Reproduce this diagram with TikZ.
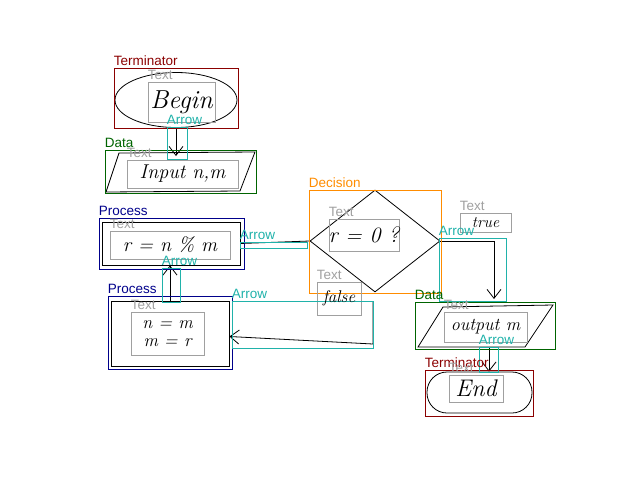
\documentclass[tikz,border=0pt]{standalone}
\usepackage{fontspec}
\setsansfont{Liberation Sans}
\usetikzlibrary{fit,shapes.geometric,arrows.meta}

\definecolor{termc}{RGB}{139,0,0}
\definecolor{datac}{RGB}{0,100,0}
\definecolor{procc}{RGB}{0,0,139}
\definecolor{decc}{RGB}{255,140,0}
\definecolor{arrc}{RGB}{32,178,170}
\definecolor{textc}{RGB}{160,160,160}

\tikzset{
    annot/.style={draw=#1, line width=0.8pt, inner sep=0pt},
    tag/.style={font=\sffamily\fontsize{13.5}{13.5}\selectfont, text=#1, inner sep=0pt, anchor=base west},
    sketch/.style={draw=black, line width=0.8pt, inner sep=0pt},
    hand/.style={font=\itshape\fontsize{#1}{#1}\selectfont, inner sep=0pt, align=center},
    flow/.style={sketch, -{Straight Barb[length=9pt,width=14pt]}}
}

\begin{document}
\begin{tikzpicture}[x=1pt, y=-1pt]
            \useasboundingbox (0,0) rectangle (640,480);

            % hand drawn flowchart
            \node[sketch, ellipse, minimum width=122pt, minimum height=55pt] (begin) at (176,100) {};
            \draw[sketch] (106,192) -- (119,153) -- (255,152) -- (240,191) -- cycle;
            \coordinate (inTop) at (176,156);
            \node[sketch, minimum width=138pt, minimum height=43pt] (proc1) at (171,243.5) {};
            \node[sketch, minimum width=118pt, minimum height=65pt] (proc2) at (170,333.5) {};
            \node[sketch, diamond, minimum width=130pt, minimum height=102pt] (dec) at (375,241) {};
            \draw[sketch] (418,347) -- (443,307) -- (553,305) -- (525,347) -- cycle;
            \coordinate (outTop) at (494,299);
            \coordinate (outBot) at (489,347);
            \coordinate (falseTop) at (373,302);
            \coordinate (falseCorner) at (373,344);
            \node[sketch, rounded corners=20pt, minimum width=105pt, minimum height=41pt] (end) at (479.5,392.5) {};

            \draw[flow] (begin.south) -- (inTop);
            \draw[flow] (proc2.north) -- (proc2.north |- proc1.south);
            \draw[sketch] (proc1.east) -- (dec.west);
            \draw[flow] (dec.east) -| (outTop);
            \draw[flow] (falseTop) -- (falseCorner) -- ([yshift=-3pt]proc2.east);
            \draw[flow] (outBot) -- (outBot |- end.north);

            % annotation boxes
            \node[annot=termc, fit={(114,68) (238,128)}] (termA) {};
            \node[annot=datac, fit={(105,150) (256,193)}] (dataA) {};
            \node[annot=procc, fit={(99,218) (244,269)}] (procA) {};
            \node[annot=procc, fit={(108,296) (232,369)}] (procB) {};
            \node[annot=decc, fit={(309,190) (441,293)}] (decA) {};
            \node[annot=datac, fit={(415,302) (555,349)}] (dataB) {};
            \node[annot=termc, fit={(425,370) (533,416)}] (termB) {};

            \node[annot=textc, fit={(148,82) (215,122)}] (txtBegin) {};
            \node[annot=textc, fit={(127,160) (238,188)}] (txtIn) {};
            \node[annot=textc, fit={(110,231) (230,259)}] (txtP1) {};
            \node[annot=textc, fit={(131,312) (204,355)}] (txtP2) {};
            \node[annot=textc, fit={(329,219) (399,251)}] (txtDec) {};
            \node[annot=textc, fit={(460,213) (511,232)}] (txtTrue) {};
            \node[annot=textc, fit={(317,282) (361,315)}] (txtFalse) {};
            \node[annot=textc, fit={(444,312) (527,342)}] (txtOut) {};
            \node[annot=textc, fit={(449,375) (503,402)}] (txtEnd) {};

            \node[annot=arrc, fit={(167,127) (187,159)}] (arrA) {};
            \node[annot=arrc, fit={(162,268) (180,302)}] (arrB) {};
            \node[annot=arrc, fit={(240,242) (307,248)}] (arrC) {};
            \node[annot=arrc, fit={(439,238) (506,301)}] (arrD) {};
            \node[annot=arrc, fit={(232,301) (373,348)}] (arrE) {};
            \node[annot=arrc, fit={(479,347) (498,372)}] (arrF) {};

            % annotation labels
            \node[tag=termc] at ([yshift=2pt]termA.north west) {Terminator};
            \node[tag=datac] at ([yshift=2pt]dataA.north west) {Data};
            \node[tag=procc] at ([yshift=2pt]procA.north west) {Process};
            \node[tag=procc] at ([yshift=2pt]procB.north west) {Process};
            \node[tag=decc] at ([yshift=2pt]decA.north west) {Decision};
            \node[tag=datac] at ([yshift=2pt]dataB.north west) {Data};
            \node[tag=termc] at ([yshift=2pt]termB.north west) {Terminator};
            \foreach \t in {txtBegin, txtIn, txtP1, txtP2, txtDec, txtTrue, txtFalse, txtOut, txtEnd}
                \node[tag=textc] at ([yshift=2pt]\t.north west) {Text};
            \foreach \a in {arrA, arrB, arrC, arrD, arrE, arrF}
                \node[tag=arrc] at ([yshift=2pt]\a.north west) {Arrow};

            % handwriting
            \node[hand=26] at (txtBegin) {Begin};
            \node[hand=20] at (txtIn) {Input n,m};
            \node[hand=20] at (txtP1) {r = n \% m};
            \node[hand=18] at (txtP2) {n = m\\m = r};
            \node[hand=22] at (txtDec) {r = 0 ?};
            \node[hand=16] at (txtTrue) {true};
            \node[hand=17] at (txtFalse) {false};
            \node[hand=18] at (txtOut) {output m};
            \node[hand=24] at (txtEnd) {End};
        \end{tikzpicture}
\end{document}
